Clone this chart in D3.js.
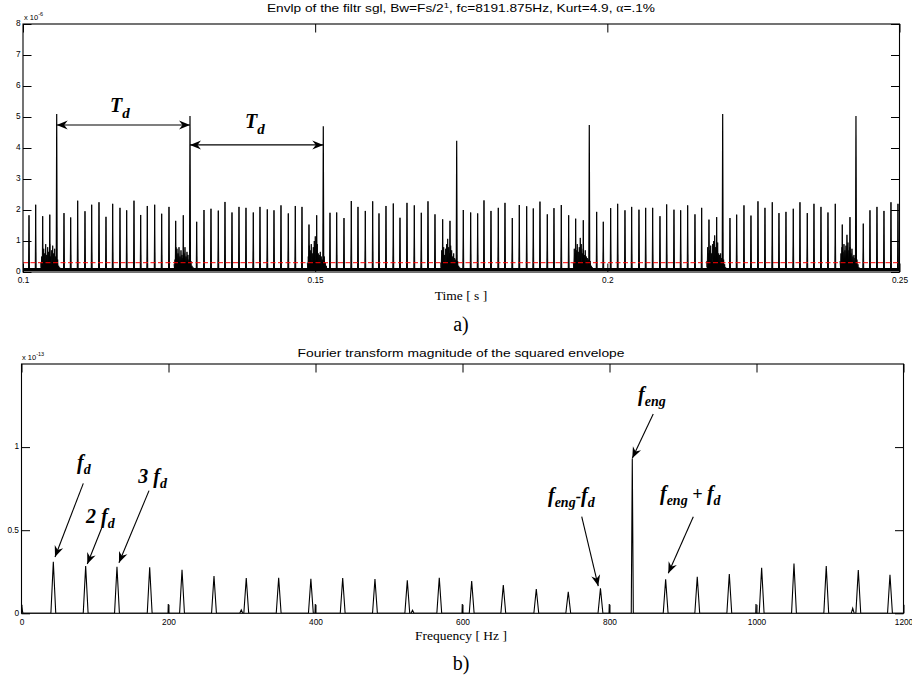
<!DOCTYPE html>
<html><head><meta charset="utf-8">
<script src="https://cdn.jsdelivr.net/npm/d3@7"></script>
<style>body{margin:0;background:#fff}svg{display:block}</style>
</head><body><svg id="c" width="912" height="677"></svg>
<script>
// ---------------- DATA ----------------
// (a) envelope of filtered signal, amplitude in units of 1e-6
const spikeTimes = [
 0.101027,0.102173,0.103371,0.104586,
 0.107016,0.108163,0.109361,0.110610,0.111757,0.113006,0.114204,0.115351,0.116600,0.117746,0.118995,0.120142,0.121271,0.122538,0.123736,0.124985,0.126132,0.127432,
 0.129725,0.130975,0.132172,0.133422,0.134568,0.135766,0.136964,0.138162,0.139411,0.140558,0.141807,0.142954,0.144152,0.145401,0.146599,0.147745,0.148943,0.150261,
 0.152537,0.153684,0.154933,0.156182,0.157329,0.158578,0.159844,0.160922,0.162120,0.163369,0.164516,0.165714,0.166963,0.168161,0.169308,0.170506,0.171823,0.173073,
 0.175349,0.176615,0.177813,0.178891,0.180089,0.181338,0.182485,0.183735,0.184933,0.186199,0.187328,0.188474,0.189724,0.190870,0.192120,0.193386,0.194584,0.195885,
 0.198177,0.199307,0.200573,0.201771,0.203020,0.204167,0.205416,0.206563,0.207761,0.209010,0.210157,0.211406,0.212553,0.213751,0.215000,0.216146,0.217395,0.218713,
 0.220989,0.222136,0.223385,0.224583,0.225781,0.226978,0.228228,0.229374,0.230572,0.231821,0.232968,0.234217,0.235364,0.236562,0.237760,0.239009,0.240207,0.241525,
 0.243800,0.244947,0.246145,0.247343,0.248541,0.249739
];
const spikeValues = [
 1.83,2.17,1.80,1.85,
 1.90,1.76,2.30,1.96,2.17,2.25,1.78,2.20,2.07,1.99,2.30,1.84,2.13,2.17,1.88,2.10,1.65,1.83,
 1.62,2.00,2.04,1.98,2.26,1.92,2.10,2.07,1.92,2.10,2.02,1.99,2.15,1.89,2.13,2.10,1.53,1.83,
 1.91,1.92,1.74,2.29,2.10,1.97,2.28,1.89,2.13,2.21,1.75,2.23,2.15,1.91,2.28,1.86,1.70,1.65,
 2.00,1.92,1.89,2.31,1.97,2.07,2.23,1.74,2.16,2.12,2.05,2.27,1.86,2.06,2.16,1.83,1.72,1.67,
 1.94,1.62,2.06,2.20,1.99,2.10,2.01,2.07,2.07,1.80,2.18,2.01,1.99,2.15,1.86,2.07,1.69,1.77,
 1.74,1.85,2.15,1.82,2.28,2.07,2.25,1.90,1.94,2.04,2.25,1.90,2.20,2.10,1.92,2.20,1.53,1.77,
 1.56,1.99,2.10,1.97,2.25,2.20
];
const bigSpikeTimes  = [0.105767,0.128579,0.151390,0.174219,0.196911,0.219740,0.242551];
const bigSpikeValues = [5.10,5.03,4.70,4.23,4.74,5.10,5.03];
// noisy bursts around each big impact: start time, sample step, upper envelope samples
const burstStartTimes = [0.103029,0.125841,0.148652,0.171481,0.194173,0.217002,0.239813];
const burstStep = 0.000171;
const burstEnvelopes = [
 [0.30,0.50,0.40,0.75,0.60,0.90,0.55,0.80,0.65,0.90,0.50,0.70,0.85,0.60,0.75,0.50,0.30,0.40,0.20,0.15],
 [0.25,0.40,0.80,0.75,0.60,0.80,0.50,0.70,0.55,0.45,0.60,0.80,0.50,0.65,0.55,0.40,0.30,0.35,0.20,0.15],
 [0.30,0.50,0.85,0.70,0.90,0.60,0.80,1.00,1.15,0.70,0.90,0.60,0.55,0.65,0.50,0.40,0.35,0.50,0.30,0.20],
 [0.30,0.70,0.60,0.80,0.55,0.75,0.90,1.07,0.80,0.60,0.85,0.70,0.50,0.60,0.45,0.40,0.30,0.35,0.20,0.15],
 [0.30,0.75,0.60,0.70,0.90,0.65,0.80,1.10,0.90,0.60,0.75,0.55,0.70,0.50,0.45,0.40,0.30,0.35,0.20,0.15],
 [0.35,0.80,0.60,0.70,0.85,0.60,0.90,1.00,1.18,0.80,0.70,0.95,0.60,0.55,0.60,0.45,0.35,0.40,0.25,0.15],
 [0.35,0.60,0.80,0.65,0.90,0.70,0.85,1.20,0.95,0.70,0.80,0.60,0.75,0.50,0.55,0.45,0.30,0.40,0.25,0.15]
];
const noiseFloor = 0.08;
const thresholdLevel = 0.3;
const timeTicks = [0.1,0.15,0.2,0.25];
const ampTicks = [0,1,2,3,4,5,6,7,8];

// (b) Fourier transform magnitude of squared envelope, units of 1e-13
const harmonicFreqs = [43.3,87.3,129.9,174.4,218.4,261.9,305.8,349.9,393.7,437.0,480.9,524.9,568.4,612.5,655.5,700.4,743.9,787.7,
                       876.4,919.4,963.0,1007.0,1051.0,1094.9,1138.5,1181.6];
const harmonicMags  = [0.310,0.284,0.280,0.277,0.262,0.224,0.212,0.214,0.207,0.212,0.206,0.198,0.214,0.194,0.170,0.146,0.130,0.150,
                       0.204,0.220,0.236,0.274,0.300,0.284,0.260,0.232];
const engineFreq = 831.0, engineMag = 0.932;
const lineFreqs = [199.7,399.7,599.7,799.7,999.3];
const lineMags  = [0.056,0.056,0.056,0.056,0.056];
const bumpFreqs = [299.0,532.0,1130.9];
const bumpMags  = [0.020,0.018,0.030];
const freqTicks = [0,200,400,600,800,1000,1200];
const magTicks = [0,0.5,1];

// ---------------- DRAW ----------------
const SANS = "'Liberation Sans', Arial, sans-serif";
const SERIF = "'Liberation Serif', 'Times New Roman', serif";
const svg = d3.select("#c");

const defs = svg.append("defs");
defs.append("marker").attr("id","ah").attr("viewBox","-12 -6 13 12")
  .attr("refX",0).attr("refY",0).attr("markerWidth",13).attr("markerHeight",12)
  .attr("markerUnits","userSpaceOnUse").attr("orient","auto-start-reverse")
  .append("path").attr("d","M0,0 L-11,-4.5 L-7.5,0 L-11,4.5 Z").attr("fill","#000");

function frame(x, y, xTicks, yTicks, xFmt, yFmt, id) {
  const [x0,x1] = x.range(); const [y0,y1] = y.range();
  const g = svg.append("g");
  const ax = [
    g.append("g").attr("transform",`translate(0,${y0})`).call(d3.axisBottom(x).tickValues(xTicks).tickSize(-8.5).tickSizeOuter(0).tickPadding(5.5).tickFormat(xFmt)),
    g.append("g").attr("transform",`translate(0,${y1})`).call(d3.axisTop(x).tickValues(xTicks).tickSize(-8.5).tickSizeOuter(0).tickFormat("")),
    g.append("g").attr("class","yl").attr("transform",`translate(${x0},0)`).call(d3.axisLeft(y).tickValues(yTicks).tickSize(-8.5).tickSizeOuter(0).tickPadding(2.5).tickFormat(yFmt)),
    g.append("g").attr("transform",`translate(${x1},0)`).call(d3.axisRight(y).tickValues(yTicks).tickSize(-8.5).tickSizeOuter(0).tickFormat(""))
  ];
  ax.forEach(a => {
    a.select(".domain").remove();
    a.selectAll("line").attr("stroke","#000").attr("stroke-width",1);
    a.selectAll("text").attr("font-family",SANS).attr("font-size",8.3).attr("fill","#000");
  });
  ax[2].selectAll("text").attr("dy","0.22em");
  g.append("rect").attr("x",x0).attr("y",y1).attr("width",x1-x0).attr("height",y0-y1)
    .attr("fill","none").attr("stroke","#000").attr("stroke-width",1.1);
  defs.append("clipPath").attr("id",id).append("rect")
    .attr("x",x0).attr("y",y1).attr("width",x1-x0).attr("height",y0-y1);
  return g;
}

// ---- panel a ----
const xa = d3.scaleLinear().domain([0.1,0.25]).range([23,899.5]);
const ya = d3.scaleLinear().domain([0,8]).range([272,24]);
const plotA = svg.append("g").attr("clip-path","url(#clipA)");

// noise floor
plotA.append("line").attr("x1",xa(0.1)).attr("x2",xa(0.25))
  .attr("y1",ya(noiseFloor)).attr("y2",ya(noiseFloor))
  .attr("stroke","#000").attr("stroke-width",3);

// bursts: jagged trace through envelope samples, dipping between samples
burstEnvelopes.forEach((env,k)=>{
  const pts = [];
  env.forEach((v,i)=>{
    const t = burstStartTimes[k]+i*burstStep;
    pts.push([t, v]);
    pts.push([t+burstStep*0.5, Math.min(v, env[i+1]===undefined?v:env[i+1])*0.45]);
  });
  plotA.append("path").attr("d",d3.area().x(d=>xa(d[0])).y0(ya(noiseFloor)).y1(d=>ya(d[1]))(pts))
    .attr("fill","#000");
  plotA.append("path").attr("d",d3.line().x(d=>xa(d[0])).y(d=>ya(d[1]))(pts))
    .attr("fill","none").attr("stroke","#000").attr("stroke-width",0.9);
});

// spikes
const halfBase = 0.00008;
const spikePath = (t,v) => `M${xa(t-halfBase)},${ya(noiseFloor)}L${xa(t)},${ya(v)}L${xa(t+halfBase)},${ya(noiseFloor)}`;
plotA.selectAll("path.sp").data(spikeTimes.map((t,i)=>[t,spikeValues[i]])).join("path")
  .attr("class","sp").attr("d",d=>spikePath(d[0],d[1]))
  .attr("fill","#000").attr("stroke","#000").attr("stroke-width",1);
plotA.selectAll("path.big").data(bigSpikeTimes.map((t,i)=>[t,bigSpikeValues[i]])).join("path")
  .attr("class","big").attr("d",d=>spikePath(d[0],d[1]))
  .attr("fill","#000").attr("stroke","#000").attr("stroke-width",1.2);

// threshold
plotA.append("line").attr("x1",xa(0.1)).attr("x2",xa(0.25))
  .attr("y1",ya(thresholdLevel)).attr("y2",ya(thresholdLevel))
  .attr("stroke","#ff0000").attr("stroke-width",1).attr("stroke-dasharray","5,2.5");

frame(xa, ya, timeTicks, ampTicks, d3.format(""), d3.format("d"), "clipA");

// titles / labels a
svg.append("text").attr("x",461).attr("y",12).attr("text-anchor","middle")
  .attr("font-family",SANS).attr("font-size",11.5)
  .attr("textLength",388).attr("lengthAdjust","spacingAndGlyphs").call(t=>{
    t.append("tspan").text("Envlp of the filtr sgl, Bw=Fs/2");
    t.append("tspan").attr("font-size",8).attr("dy",-4).text("1");
    t.append("tspan").attr("dy",4).text(", fc=8191.875Hz, Kurt=4.9, ");
    t.append("tspan").attr("font-family",SERIF).text("α");
    t.append("tspan").text("=.1%");
  });
svg.append("text").attr("x",24).attr("y",20).attr("font-family",SANS).attr("font-size",7.5).call(t=>{
  t.append("tspan").text("x 10");
  t.append("tspan").attr("font-size",5.5).attr("dy",-4).text("-6");
});
svg.append("text").attr("x",461).attr("y",300).attr("text-anchor","middle")
  .attr("font-family",SERIF).attr("font-size",13.5).text("Time [ s ]");
svg.append("text").attr("x",461).attr("y",331).attr("text-anchor","middle")
  .attr("font-family",SERIF).attr("font-size",20).text("a)");

// Td annotations
function subText(x, y, parts, anchor) {
  const t = svg.append("text").attr("x",x).attr("y",y).attr("font-family",SERIF)
    .attr("font-weight","bold").attr("font-style","italic").attr("text-anchor",anchor||"start");
  parts.forEach(p=>{
    const s = t.append("tspan").attr("font-size",p.size).text(p.text);
    if (p.dy) s.attr("dy",p.dy);
  });
  return t;
}
function arrow(x1,y1,x2,y2,both){
  const l = svg.append("line").attr("x1",x1).attr("y1",y1).attr("x2",x2).attr("y2",y2)
    .attr("stroke","#000").attr("stroke-width",1.1).attr("marker-end","url(#ah)");
  if (both) l.attr("marker-start","url(#ah)");
}
arrow(xa(bigSpikeTimes[0]), ya(4.74), xa(bigSpikeTimes[1]), ya(4.74), true);
arrow(xa(bigSpikeTimes[1]), ya(4.10), xa(bigSpikeTimes[2]), ya(4.10), true);
const tdParts = [{text:"T",size:20},{text:"d",size:15,dy:6}];
subText(xa(0.11489), ya(5.17), tdParts);
subText(xa(0.13799), ya(4.65), tdParts);

// ---- panel b ----
const xb = d3.scaleLinear().domain([0,1200]).range([21.5,903.5]);
const yb = d3.scaleLinear().domain([0,1.5]).range([613.3,364]);
const plotB = svg.append("g").attr("clip-path","url(#clipB)");

const peaks = [];
harmonicFreqs.forEach((f,i)=>peaks.push({f, m:harmonicMags[i], w:3.3}));
peaks.push({f:engineFreq, m:engineMag, w:1.4});
lineFreqs.forEach((f,i)=>peaks.push({f, m:lineMags[i], w:0.35}));
bumpFreqs.forEach((f,i)=>peaks.push({f, m:bumpMags[i], w:2.0}));
peaks.sort((a,b)=>a.f-b.f);
const spec = [[0,0.04],[2,0]];
peaks.forEach(p=>{ spec.push([p.f-p.w,0],[p.f,p.m],[p.f+p.w,0]); });
spec.push([1200,0]);
plotB.append("path").attr("d", d3.line().x(d=>xb(d[0])).y(d=>yb(d[1]))(spec))
  .attr("fill","none").attr("stroke","#000").attr("stroke-width",1.1).attr("stroke-linejoin","miter");

frame(xb, yb, freqTicks, magTicks, d3.format("d"), d3.format(""), "clipB");

svg.append("text").attr("x",461).attr("y",357).attr("text-anchor","middle")
  .attr("font-family",SANS).attr("font-size",11.5)
  .attr("textLength",327).attr("lengthAdjust","spacingAndGlyphs")
  .text("Fourier transform magnitude of the squared envelope");
svg.append("text").attr("x",22).attr("y",360).attr("font-family",SANS).attr("font-size",7.5).call(t=>{
  t.append("tspan").text("x 10");
  t.append("tspan").attr("font-size",5.5).attr("dy",-4).text("-13");
});
svg.append("text").attr("x",461).attr("y",640).attr("text-anchor","middle")
  .attr("font-family",SERIF).attr("font-size",13.5).text("Frequency [ Hz ]");
svg.append("text").attr("x",461).attr("y",670).attr("text-anchor","middle")
  .attr("font-family",SERIF).attr("font-size",20).text("b)");

// spectral annotations (data coords)
const F = {text:"f",size:20};
const sub = s => ({text:s,size:14,dy:5});
const back = (s,sz) => ({text:s,size:sz||20,dy:-5});
subText(xb(75.5), yb(0.868), [F, sub("d")]);
arrow(xb(84.1), yb(0.782), xb(45.6), yb(0.339));
subText(xb(87.8), yb(0.541), [{text:"2 ",size:20}, F, sub("d")]);
arrow(xb(109.1), yb(0.513), xb(89.5), yb(0.297));
subText(xb(158.9), yb(0.782), [{text:"3 ",size:20}, F, sub("d")]);
arrow(xb(173.5), yb(0.738), xb(132.6), yb(0.304));
subText(xb(838.9), yb(1.277), [F, sub("eng")]);
arrow(xb(859.5), yb(1.199), xb(831), yb(0.933));
subText(xb(716.3), yb(0.670), [F, sub("eng"), back("-",16), F, sub("d")]);
arrow(xb(762.2), yb(0.581), xb(784.7), yb(0.164));
subText(xb(868.7), yb(0.681), [F, sub("eng"), back(" + ",18), F, sub("d")]);
arrow(xb(914), yb(0.581), xb(880), yb(0.241));
</script></body></html>
